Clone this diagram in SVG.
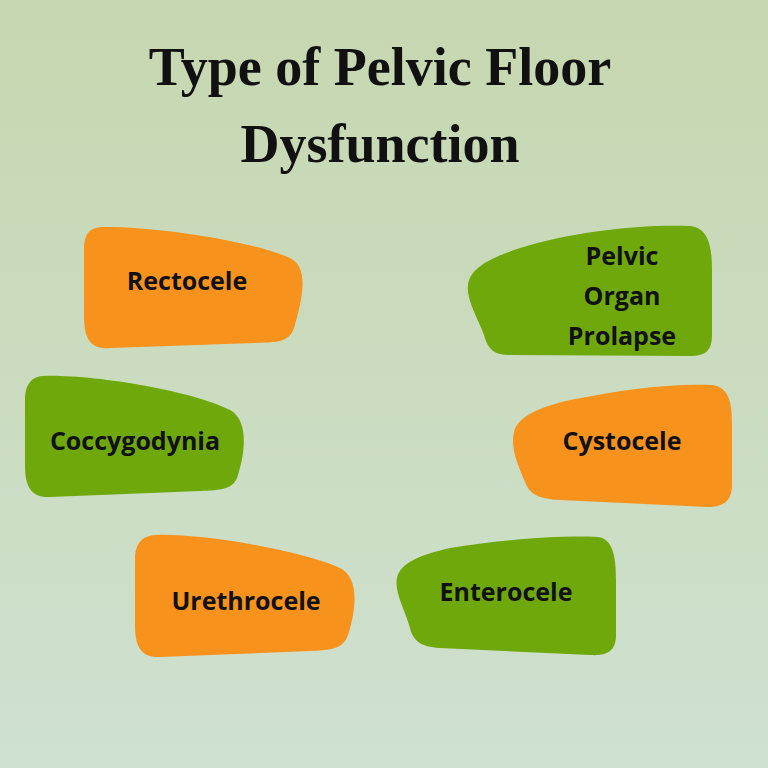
<svg xmlns="http://www.w3.org/2000/svg" width="768" height="768" viewBox="0 0 768 768">
<defs>
<linearGradient id="bg" x1="0" y1="0" x2="0" y2="1">
<stop offset="0" stop-color="#c6d7b0"/>
<stop offset="1" stop-color="#cfe1d0"/>
</linearGradient>
<style>
.o{fill:#f7921c}.g{fill:#6fa80b}
.t{font-family:"Liberation Serif","DejaVu Serif",serif;font-weight:bold;font-size:54px;fill:#111;text-anchor:middle}
.l{font-family:"Open Sans","DejaVu Sans",sans-serif;font-weight:bold;font-size:25px;fill:#111;text-anchor:middle}
</style>
</defs>
<rect width="768" height="768" fill="url(#bg)"/>
<g id="title">
<text class="t" x="380" y="85">Type of Pelvic Floor</text>
<text class="t" x="380" y="162">Dysfunction</text>
</g>
<g id="rectocele">
<path class="o" d="M102,227 C150,226 250,240 290,258 C310,268 302,300 294,328 C289,344 272,342 255,343 L110,348 C88,350 84,335 84,315 L84,250 C84,233 90,228 102,227 Z"/>
<text class="l" x="187" y="290">Rectocele</text>
</g>
<g id="prolapse">
<path class="g" d="M690,226 C710,228 712,250 712,270 L712,335 C712,352 704,356 690,356 L510,355 C495,355 488,350 484,335 C478,318 466,300 468,285 C470,268 490,258 520,248 C570,232 640,224 690,226 Z"/>
<text class="l" x="622" y="265">Pelvic</text>
<text class="l" x="622" y="305">Organ</text>
<text class="l" x="622" y="345">Prolapse</text>
</g>
<g id="coccygodynia">
<path class="g" d="M42,376 C90,374 190,390 230,410 C248,420 246,450 238,475 C234,490 220,490 200,491 L50,497 C30,498 25,485 25,465 L25,400 C25,384 32,377 42,376 Z"/>
<text class="l" x="135" y="450">Coccygodynia</text>
</g>
<g id="cystocele">
<path class="o" d="M712,385 C730,387 732,405 732,425 L732,485 C732,502 722,507 708,507 L560,500 C540,499 530,495 525,482 C518,465 510,448 514,432 C518,416 540,407 570,400 C620,390 670,383 712,385 Z"/>
<text class="l" x="622" y="450">Cystocele</text>
</g>
<g id="urethrocele">
<path class="o" d="M155,535 C200,533 300,550 340,568 C360,578 356,610 348,635 C343,650 328,650 310,651 L160,657 C140,658 135,645 135,625 L135,560 C135,542 143,536 155,535 Z"/>
<text class="l" x="246" y="610">Urethrocele</text>
</g>
<g id="enterocele">
<path class="g" d="M598,537 C614,539 616,560 616,580 L616,635 C616,652 606,656 590,655 L440,648 C420,647 413,640 410,628 C405,610 394,592 397,578 C400,563 420,555 450,548 C500,540 560,535 598,537 Z"/>
<text class="l" x="506" y="601">Enterocele</text>
</g>
<g id="connectors"/>
</svg>
